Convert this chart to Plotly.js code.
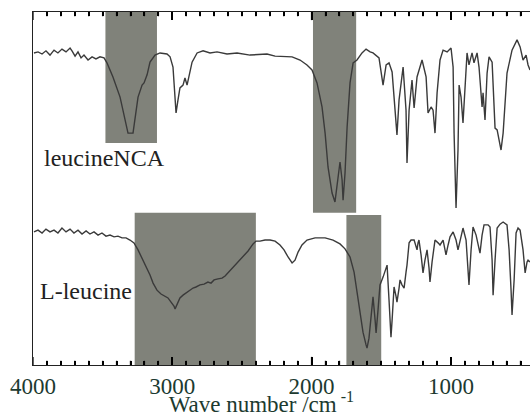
<!DOCTYPE html>
<html>
<head>
<meta charset="utf-8">
<script src="https://cdn.plot.ly/plotly-3.0.1.min.js"></script>
<style>html,body{margin:0;padding:0;background:#fff}#chart{width:530px;height:417px}</style>
</head>
<body>
<div id="chart"></div>
<script>
// leucineNCA spectrum (wavenumber / cm-1, transmittance in arbitrary %)
const ncaWn = [3993,3964,3935,3907,3878,3849,3821,3792,3763,3734,3720,3698,3677,3655,3634,3605,3576,3548,3519,3490,3469,3426,3375,3339,3318,3282,3268,3246,3217,3203,3181,3160,3124,3088,3038,3016,2995,2980,2973,2959,2945,2923,2909,2894,2880,2858,2822,2779,2729,2679,2607,2535,2442,2320,2262,2140,2083,2033,1997,1961,1925,1903,1882,1853,1832,1817,1796,1781,1774,1760,1745,1724,1702,1674,1638,1609,1580,1559,1530,1516,1487,1465,1444,1422,1387,1372,1343,1322,1315,1300,1279,1264,1243,1207,1178,1164,1142,1128,1114,1099,1078,1056,1027,999,984,977,963,949,941,927,913,898,884,870,848,834,812,798,776,769,755,740,726,704,683,668,640,625,597,561,525,503,482,460,446,432];
const ncaT  = [88.4,88.7,88.1,89.0,87.8,89.2,88.4,89.5,88.7,89.8,89.0,87.5,88.7,87.0,87.8,86.4,87.3,86.7,87.3,87.0,85.6,81.6,75.9,69.4,65.7,65.7,70.3,75.9,79.3,79.9,82.2,85.8,87.8,88.4,88.1,87.3,84.4,75.1,71.4,75.1,78.5,79.3,81.3,79.3,81.6,85.8,88.4,89.0,88.4,88.7,88.1,88.4,87.8,88.1,87.5,87.3,86.4,85.0,83.6,79.9,73.1,65.7,56.1,48.7,46.2,50.4,57.5,52.4,46.7,54.4,67.4,79.9,85.6,86.4,88.4,89.5,88.7,88.4,87.3,87.0,79.3,85.0,85.6,83.0,65.2,75.1,84.4,72.2,57.2,72.2,80.7,72.8,81.6,86.4,81.6,71.4,73.1,72.2,65.7,77.1,86.4,89.2,88.7,89.8,84.4,65.7,44.5,60.9,79.3,75.9,68.6,79.9,88.4,85.0,88.4,85.6,88.4,84.4,73.1,77.1,69.4,82.7,87.3,85.8,67.1,66.6,60.9,65.7,82.7,89.2,92.1,90.1,86.4,87.8,85.0,83.6];

// L-leucine spectrum
const leuWn = [3993,3964,3935,3907,3878,3849,3821,3792,3763,3734,3706,3677,3648,3619,3591,3562,3533,3505,3476,3447,3418,3390,3361,3332,3304,3275,3246,3210,3181,3160,3138,3110,3081,3052,3031,3009,2988,2980,2966,2945,2923,2901,2873,2851,2830,2801,2772,2744,2722,2700,2672,2643,2621,2600,2564,2528,2492,2456,2420,2399,2370,2334,2298,2262,2227,2198,2169,2140,2119,2097,2069,2033,1975,1903,1846,1796,1760,1724,1695,1674,1652,1631,1609,1602,1588,1573,1559,1544,1537,1523,1509,1487,1473,1458,1444,1430,1422,1408,1394,1387,1372,1365,1351,1336,1322,1315,1300,1286,1264,1250,1243,1236,1229,1214,1200,1186,1171,1157,1150,1135,1114,1092,1078,1056,1042,1035,1020,1006,984,963,949,934,913,891,877,870,855,841,819,791,776,762,733,719,704,697,683,668,647,625,597,582,568,561,546,532,518,503,482,467,453,446,432];
const leuT  = [37.7,38.2,37.4,38.5,37.7,38.2,37.4,38.8,37.7,38.5,37.4,38.2,37.1,38.0,37.1,37.7,36.8,37.4,36.5,36.8,36.3,36.5,36.0,36.0,35.4,34.6,32.6,29.7,27.5,25.5,23.2,21.2,20.1,19.5,19.0,17.8,16.7,15.9,17.0,19.0,19.8,20.4,21.2,21.8,22.1,22.7,22.9,23.5,23.2,24.1,24.4,24.6,25.2,26.1,27.8,29.2,30.6,32.3,34.3,35.1,35.1,35.4,35.4,35.1,34.0,32.6,30.6,28.9,29.7,32.0,34.0,35.4,36.0,36.0,35.4,34.3,32.9,30.6,26.3,20.4,14.2,9.3,5.7,4.8,7.6,14.2,19.3,12.7,9.1,15.6,22.7,24.9,26.9,28.3,18.4,7.9,12.7,22.1,19.5,17.8,21.8,24.1,22.7,21.8,26.3,28.3,34.6,35.4,35.4,33.1,32.6,34.6,35.4,31.2,26.1,29.7,32.6,27.5,23.5,29.2,35.4,34.6,34.0,35.4,33.1,31.2,34.0,36.3,37.7,35.4,32.6,35.4,38.8,35.4,26.9,22.7,32.6,39.1,36.8,31.7,36.8,39.7,39.7,39.1,29.7,19.8,29.7,38.8,39.9,40.5,39.7,32.6,21.2,14.2,24.1,37.4,38.8,38.2,32.6,26.1,29.2,29.7,29.2];

// highlighted absorption bands (cm-1)
const bandFrom  = [3480, 1990, 3270, 1750];
const bandTo    = [3110, 1680, 2400, 1500];
const bandLow   = [62.9, 43.1, 0, 0];
const bandHigh  = [100, 100, 43.1, 42.5];

// frame tick positions (cm-1)
const majorTicks = [4000, 3000, 2000, 1000];
const minorTicks = [4000,3900,3800,3700,3600,3500,3400,3300,3200,3100,3000,2900,2800,2700,2600,2500,2400,2300,2200,2100,2000,1900,1800,1700,1600,1500,1400,1300,1200,1100,1000,900,800,700,600,500];
const seriesNames = ['leucineNCA', 'L-leucine'];

const serif = 'serif';
const lineColor = '#3a3a3a';
const textColor = '#1c3a30';
const tickColor = '#222';

const shapes = bandFrom.map((f, i) => ({
  type: 'rect', xref: 'x', yref: 'y', layer: 'below',
  x0: f, x1: bandTo[i], y0: bandLow[i], y1: bandHigh[i],
  fillcolor: 'rgb(128,130,122)', line: {width: 0}
}));

// tick marks drawn as one-sided error bars standing on the bottom frame and hanging from the top frame
const tickLen = minorTicks.map(v => majorTicks.includes(v) ? 2.3 : 1.2);
const zeros = minorTicks.map(() => 0);
const tickStyle = {type: 'data', symmetric: false, width: 0, thickness: 1.4, color: tickColor};

const traces = [
  {x: ncaWn, y: ncaT, name: seriesNames[0], type: 'scatter', mode: 'lines', line: {color: lineColor, width: 1.4}},
  {x: leuWn, y: leuT, name: seriesNames[1], type: 'scatter', mode: 'lines', line: {color: lineColor, width: 1.4}},
  {x: minorTicks, y: minorTicks.map(() => 0), type: 'scatter', mode: 'markers', cliponaxis: false,
   marker: {size: 1, color: 'rgba(0,0,0,0)'}, error_y: Object.assign({array: tickLen, arrayminus: zeros}, tickStyle)},
  {x: minorTicks, y: minorTicks.map(() => 100), type: 'scatter', mode: 'markers', cliponaxis: false,
   marker: {size: 1, color: 'rgba(0,0,0,0)'}, error_y: Object.assign({array: zeros, arrayminus: tickLen}, tickStyle)}
];

const layout = {
  width: 530, height: 417,
  margin: {l: 33, r: 0, t: 12, b: 52},
  showlegend: false,
  font: {family: serif, color: textColor},
  xaxis: {
    range: [4000, 432], showgrid: false, zeroline: false,
    showline: true, linecolor: tickColor, mirror: 'ticks',
    tick0: 0, dtick: 1000,
    ticks: 'inside', ticklen: 8, tickwidth: 2, tickcolor: '#000',
    tickfont: {family: serif, size: 23, color: textColor},
    minor: {dtick: 100, ticks: 'inside', ticklen: 4},
    title: {text: 'Wave number /cm<sup> -1</sup>&nbsp;&nbsp;&nbsp;&nbsp;&nbsp;&nbsp;&nbsp;', font: {family: serif, size: 23, color: textColor}, standoff: 2}
  },
  yaxis: {
    range: [0, 100], showgrid: false, zeroline: false, showticklabels: false,
    showline: true, linecolor: tickColor, ticks: ''
  },
  shapes: shapes,
  annotations: [
    {xref: 'x', yref: 'y', x: 3935, y: 58.6, xanchor: 'left', yanchor: 'middle', showarrow: false,
     text: seriesNames[0], font: {family: serif, size: 24, color: '#222'}},
    {xref: 'x', yref: 'y', x: 3964, y: 21.0, xanchor: 'left', yanchor: 'middle', showarrow: false,
     text: seriesNames[1], font: {family: serif, size: 24, color: '#222'}, bgcolor: '#fff', borderpad: 1}
  ]
};

Plotly.newPlot('chart', traces, layout, {staticPlot: true}).then(gd => {
  if (document.fonts && document.fonts.ready) {
    document.fonts.ready.then(() => Plotly.redraw(gd));
  }
});
</script>
</body>
</html>
